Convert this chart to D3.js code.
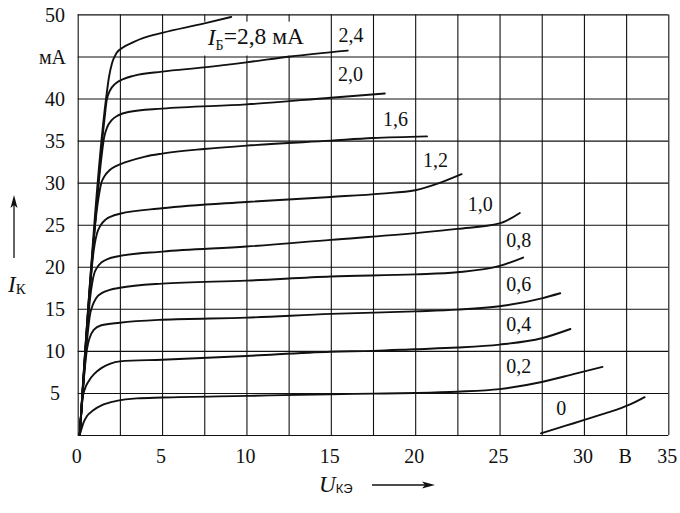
<!DOCTYPE html>
<html>
<head>
<meta charset="utf-8">
<script src="https://cdn.jsdelivr.net/npm/d3@7"></script>
<style>
  html, body { margin: 0; padding: 0; background: #fff; }
  svg { display: block; }
  text { font-family: "Liberation Serif", "DejaVu Serif", serif; fill: #111; }
</style>
</head>
<body>
<div id="chart"></div>
<script>
// ---- data (U_KE in V, I_K in mA) ----
const xGrid = [0, 2.5, 5, 7.5, 10, 12.5, 15, 17.5, 20, 22.5, 25, 27.5, 30, 32.5, 35];
const yGrid = [0, 5, 10, 15, 20, 25, 30, 35, 40, 45, 50];
const xTickValues = [0, 5, 10, 15, 20, 25, 30, 32.5, 35];
const xTickLabels = ["0", "5", "10", "15", "20", "25", "30", "В", "35"];
const yTickValues = [5, 10, 15, 20, 25, 30, 35, 40, 45, 50];
const yTickLabels = ["5", "10", "15", "20", "25", "30", "35", "40", "мА", "50"];

const ib0  = [[27.45,0.2],[28.5,0.85],[29.4,1.4],[30.5,2.1],[31.3,2.6],[32.2,3.2],[32.7,3.6],[33.6,4.5]];
const ib02 = [[0.12,0],[0.22,0.7],[0.35,1.5],[0.55,2.25],[0.9,2.9],[1.5,3.6],[2.3,4.05],[3.5,4.35],[5,4.45],[10,4.65],[15,4.85],[17.5,4.92],[20,5.0],[22.5,5.15],[25,5.45],[27.5,6.3],[29.5,7.3],[31.1,8.1]];
const ib04 = [[0.12,0],[0.3,4.5],[0.45,5.6],[0.65,6.4],[1.0,7.3],[1.4,7.95],[1.9,8.45],[2.5,8.75],[5,8.95],[10,9.4],[15,9.9],[17.5,10.0],[20,10.2],[22.5,10.4],[25,10.75],[27.5,11.5],[29.2,12.6]];
const ib06 = [[0.12,0],[0.45,8.5],[0.55,10.2],[0.7,11.5],[0.95,12.5],[1.4,13.05],[2.5,13.35],[5,13.7],[10,13.95],[15,14.4],[20,14.7],[22.5,14.9],[25,15.3],[27.5,16.25],[28.6,16.85]];
const ib08 = [[0.12,0],[0.6,12.2],[0.72,14.2],[0.88,15.4],[1.1,16.3],[1.45,16.9],[1.9,17.25],[2.5,17.5],[5,18.0],[10,18.35],[15,18.85],[20,19.1],[22.5,19.35],[25,20.1],[26.4,21.1]];
const ib10 = [[0.12,0],[0.8,17.3],[0.95,19.0],[1.15,19.9],[1.4,20.5],[1.8,20.95],[2.4,21.25],[5,21.8],[10,22.4],[15,23.2],[20,24.0],[22.5,24.5],[25,25.15],[26.2,26.4]];
const ib12 = [[0.12,0],[1.0,22.6],[1.15,24.0],[1.35,24.9],[1.65,25.6],[2.0,26.0],[2.5,26.3],[5,26.95],[10,27.7],[15,28.3],[18,28.7],[20,29.1],[21.5,30.0],[22.75,31.0]];
const ib16 = [[0.12,0],[1.22,28.0],[1.38,29.8],[1.6,30.8],[1.9,31.5],[2.3,32.0],[2.8,32.4],[4,33.1],[5,33.45],[7.5,34.0],[10,34.4],[15,35.0],[17.5,35.3],[20.7,35.5]];
const ib20 = [[0.12,0],[1.42,33.2],[1.55,35.2],[1.75,36.6],[2.0,37.4],[2.4,38.0],[3.0,38.4],[5,38.8],[10,39.3],[15,40.1],[18.2,40.6]];
const ib24 = [[0.12,0],[1.6,37.8],[1.72,39.8],[1.9,40.9],[2.2,41.7],[2.7,42.3],[3.3,42.7],[5,43.2],[7.5,43.7],[10,44.3],[12.6,45.0],[16,45.7]];
const ib28 = [[0.12,0],[1.7,40.3],[1.85,42.5],[2.05,44.3],[2.3,45.4],[2.7,46.1],[3.3,46.7],[3.9,47.2],[5,47.8],[7.45,48.9],[9.1,49.7]];

const seriesList = [ib0, ib02, ib04, ib06, ib08, ib10, ib12, ib16, ib20, ib24, ib28];

// curve annotations (text, position in data units)
const curveLabels = ["0", "0,2", "0,4", "0,6", "0,8", "1,0", "1,2", "1,6", "2,0", "2,4"];
const curveLabelX = [28.65, 26.13, 26.13, 26.13, 26.14, 23.86, 21.2, 18.83, 16.16, 16.19];
const curveLabelY = [3.17, 8.15, 13.2, 17.95, 23.19, 27.5, 32.7, 37.57, 42.9, 47.6];
const topLabelPos = [10.56, 47.3];

// ---- layout ----
const W = 680, H = 513;
const svg = d3.select("#chart").append("svg").attr("width", W).attr("height", H);

const x = d3.scaleLinear().domain([0, 35]).range([77.7, 668.3]);
const y = d3.scaleLinear().domain([0, 50]).range([435, 14.4]);
const ink = "#111";

// grid via axes
const gx = svg.append("g").attr("transform", `translate(0,${y(0)})`)
  .call(d3.axisBottom(x).tickValues(xGrid).tickSize(-(y(0) - y(50))).tickFormat(""));
const gy = svg.append("g").attr("transform", `translate(${x(0)},0)`)
  .call(d3.axisLeft(y).tickValues(yGrid).tickSize(-(x(35) - x(0))).tickFormat(""));
[gx, gy].forEach(g => {
  g.select(".domain").remove();
  g.selectAll(".tick line").attr("stroke", ink).attr("stroke-width", 1.1);
});

// white box behind the I_B=2,8 label
const topG = svg.append("g");
const boxRect = topG.append("rect").attr("fill", "#fff");

// tick labels
const xl = svg.append("g").attr("transform", `translate(0,${y(0)})`)
  .call(d3.axisBottom(x).tickValues(xTickValues).tickSize(0).tickPadding(14)
    .tickFormat((d, i) => xTickLabels[i]));
xl.select(".domain").remove();
xl.selectAll("text").attr("font-size", 20).attr("font-family", "Liberation Serif").attr("fill", ink)
  .attr("dx", -1.5);

const yl = svg.append("g").attr("transform", `translate(${x(0)},0)`)
  .call(d3.axisLeft(y).tickValues(yTickValues).tickSize(0)
    .tickFormat((d, i) => yTickLabels[i]));
yl.select(".domain").remove();
yl.selectAll("text").attr("font-size", 20).attr("font-family", "Liberation Serif").attr("fill", ink)
  .attr("text-anchor", "middle").attr("x", 55 - x(0)).attr("dy", "0.33em");
yl.selectAll("text").filter((d, i) => yTickLabels[i] === "мА").attr("x", 52.5 - x(0));

// curves
const line = d3.line().x(d => x(d[0])).y(d => y(d[1])).curve(d3.curveMonotoneX);
svg.append("g").selectAll("path").data(seriesList).join("path")
  .attr("d", line).attr("fill", "none").attr("stroke", ink)
  .attr("stroke-width", 1.9).attr("stroke-linejoin", "round").attr("stroke-linecap", "round");

// curve labels
svg.append("g").selectAll("text").data(curveLabels).join("text")
  .attr("x", (d, i) => x(curveLabelX[i])).attr("y", (d, i) => y(curveLabelY[i]))
  .attr("dy", "0.35em").attr("text-anchor", "middle").attr("font-size", 20).text(d => d);

// I_B = 2,8 mA label
const tl = topG.append("text").attr("x", x(topLabelPos[0])).attr("y", y(topLabelPos[1]))
  .attr("dy", "0.35em").attr("text-anchor", "middle").attr("font-size", 23.5);
tl.append("tspan").attr("font-style", "italic").text("I");
tl.append("tspan").attr("font-size", 14).attr("dy", "0.3em").text("Б");
tl.append("tspan").attr("dy", "-0.25em").text("=2,8 мА");
const bb = tl.node().getBBox();
boxRect.attr("x", bb.x - 6).attr("y", bb.y - 1).attr("width", bb.width + 12).attr("height", bb.height + 4);

// axis titles
const ik = svg.append("text").attr("x", 8).attr("y", 292).attr("font-size", 23);
ik.append("tspan").attr("font-style", "italic").text("I");
ik.append("tspan").attr("font-size", 15).attr("dy", 2).text("К");

const uk = svg.append("text").attr("x", 319).attr("y", 492).attr("font-size", 23);
uk.append("tspan").attr("font-style", "italic").text("U");
uk.append("tspan").attr("font-size", 13).attr("dy", 1).attr("font-family", "Liberation Sans").text("КЭ");

// arrows
svg.append("line").attr("x1", 14).attr("y1", 258).attr("x2", 14).attr("y2", 205)
  .attr("stroke", ink).attr("stroke-width", 1.3);
svg.append("path").attr("d", "M14,195 L10.5,208 L14,205 L17.5,208 Z").attr("fill", ink);
svg.append("line").attr("x1", 372).attr("y1", 485).attr("x2", 425).attr("y2", 485)
  .attr("stroke", ink).attr("stroke-width", 1.3);
svg.append("path").attr("d", "M435,485 L422,481.5 L425,485 L422,488.5 Z").attr("fill", ink);
</script>
</body>
</html>
